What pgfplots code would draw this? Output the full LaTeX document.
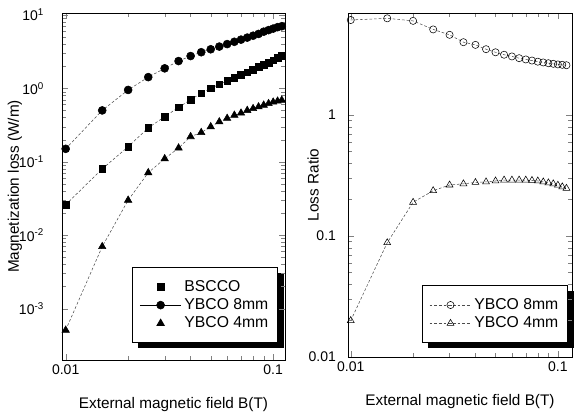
\documentclass[border=0pt]{standalone}
\usepackage{fontspec}
\setmainfont{Liberation Sans}
\usepackage{pgfplots}
\pgfplotsset{compat=1.18}
\usetikzlibrary{backgrounds}

\newcommand\lf{\fontsize{11.8}{14}\selectfont}

\pgfplotsset{
  every axis/.append style={
    scale only axis, tick align=inside, axis line style={line width=0.6pt},
    xtick={0.01,0.1}, xticklabels={0.01,0.1},
    tick label style={font=\fontsize{10.5}{12}\selectfont},
    label style={font=\fontsize{11.5}{13}\selectfont},
    xlabel={External magnetic field B(T)},
    xlabel style={yshift=-10pt},
    legend cell align=left,
  },
  every axis legend/.append style={draw=black, line width=0.6pt, fill=white,
    inner xsep=5pt, inner ysep=7.5pt, row sep=0pt},
  legend image code/.code={\draw[mark repeat=2,mark phase=2,#1] plot coordinates {(0cm,0cm) (0.55cm,0cm) (1.1cm,0cm)};},
  ser/.style={black!70, line width=0.4pt, dash pattern=on 2pt off 1.5pt, mark options={solid, black}},
}

\begin{document}
\begin{tikzpicture}
  % left panel: magnetization loss
  \begin{loglogaxis}[
      at={(46.5pt,40.5pt)}, anchor=south west,
      width=167.25pt, height=260.25pt,
      xmin=0.0096, xmax=0.114, ymin=2e-4, ymax=10.6,
      ytick={1e-3,1e-2,1e-1,1,10},
      yticklabels={10\textsuperscript{-3},10\textsuperscript{-2},10\textsuperscript{-1},10\textsuperscript{0},10\textsuperscript{1}},
      yticklabel style={xshift=-10pt},
      ylabel={Magnetization loss (W/m)},
      ylabel style={at={(axis description cs:-0.211,0.5)}, anchor=center},
      legend style={at={(0.969,0.049)}, anchor=south east, name=legL},
    ]
    \addplot[ser, mark=square*, mark size=2.5pt, forget plot] coordinates {
      (0.010,0.026)(0.015,0.080)(0.020,0.16)(0.025,0.29)(0.030,0.41)(0.035,0.55)(0.040,0.70)
      (0.045,0.86)(0.050,1.00)(0.055,1.13)(0.060,1.27)(0.065,1.40)(0.070,1.53)(0.075,1.66)
      (0.080,1.80)(0.085,1.95)(0.090,2.10)(0.095,2.25)(0.100,2.40)(0.105,2.58)(0.110,2.75)};
    \addplot[ser, mark=*, mark size=3pt, forget plot] coordinates {
      (0.010,0.15)(0.015,0.50)(0.020,0.95)(0.025,1.42)(0.030,1.87)(0.035,2.35)(0.040,2.75)
      (0.045,3.10)(0.050,3.40)(0.055,3.70)(0.060,4.00)(0.065,4.30)(0.070,4.60)(0.075,4.90)
      (0.080,5.20)(0.085,5.50)(0.090,5.90)(0.095,6.20)(0.100,6.50)(0.105,6.80)(0.110,7.00)};
    \addplot[ser, mark=triangle*, mark size=3.2pt, forget plot] coordinates {
      (0.010,0.00051)(0.015,0.0070)(0.020,0.030)(0.025,0.071)(0.030,0.11)(0.035,0.154)(0.040,0.22)
      (0.045,0.25)(0.050,0.30)(0.055,0.35)(0.060,0.39)(0.065,0.43)(0.070,0.46)(0.075,0.50)
      (0.080,0.53)(0.085,0.56)(0.090,0.59)(0.095,0.62)(0.100,0.65)(0.105,0.67)(0.110,0.69)};
    \addlegendimage{only marks, black, mark=square*, mark size=2.5pt}
    \addlegendentry{\lf BSCCO}
    \addlegendimage{black, line width=0.4pt, mark=*, mark size=3pt}
    \addlegendentry{\lf YBCO 8mm}
    \addlegendimage{only marks, black, mark=triangle*, mark size=3.2pt}
    \addlegendentry{\lf YBCO 4mm}
  \end{loglogaxis}

  % right panel: loss ratio
  \begin{loglogaxis}[
      at={(261pt,42.75pt)}, anchor=south west,
      width=168pt, height=258pt,
      xmin=0.0097, xmax=0.117, ymin=0.01, ymax=6.97,
      ytick={0.01,0.1,1}, yticklabels={0.01,0.1,1},
      yticklabel style={xshift=-5.5pt},
      ylabel={Loss Ratio},
      ylabel style={at={(axis description cs:-0.156,0.5)}, anchor=center},
      legend style={at={(0.982,0.041)}, anchor=south east, name=legR},
    ]
    \addplot[ser, mark=o, mark size=2.7pt] coordinates {
      (0.010,6.1)(0.015,6.3)(0.020,6.0)(0.025,5.1)(0.030,4.6)(0.035,4.0)(0.040,3.8)
      (0.045,3.5)(0.050,3.3)(0.055,3.15)(0.060,3.05)(0.065,2.95)(0.070,2.88)(0.075,2.82)
      (0.080,2.76)(0.085,2.72)(0.090,2.68)(0.095,2.65)(0.100,2.62)(0.105,2.60)(0.110,2.58)};
    \addlegendentry{\lf YBCO 8mm}
    \addplot[ser, mark=triangle, mark size=3pt] coordinates {
      (0.010,0.020)(0.015,0.088)(0.020,0.19)(0.025,0.237)(0.030,0.264)(0.035,0.27)(0.040,0.277)
      (0.045,0.28)(0.050,0.285)(0.055,0.29)(0.060,0.29)(0.065,0.29)(0.070,0.29)(0.075,0.288)
      (0.080,0.285)(0.085,0.28)(0.090,0.275)(0.095,0.27)(0.100,0.263)(0.105,0.255)(0.110,0.248)};
    \addlegendentry{\lf YBCO 4mm}
  \end{loglogaxis}

  % legend shadows
  \begin{scope}[on background layer]
    \fill[black] ([shift={(4.5pt,-4pt)}]legL.south west) rectangle ([shift={(4.5pt,-4pt)}]legL.north east);
    \fill[black] ([shift={(4.5pt,-4pt)}]legR.south west) rectangle ([shift={(4.5pt,-4pt)}]legR.north east);
  \end{scope}

  \pgfresetboundingbox
  \useasboundingbox (0,0) rectangle (430.5pt,310.5pt);
\end{tikzpicture}
\end{document}
